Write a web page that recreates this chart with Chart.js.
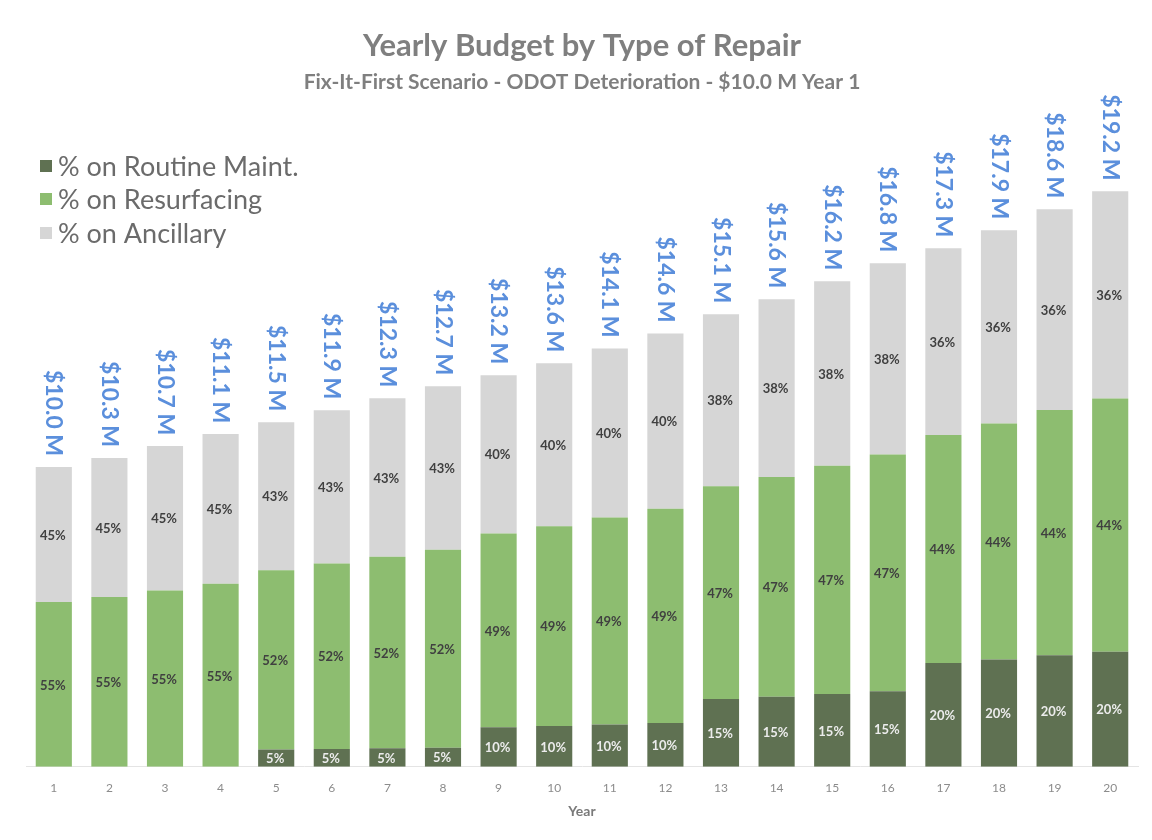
<!DOCTYPE html>
<html>
<head>
<meta charset="utf-8">
<script src="https://cdn.jsdelivr.net/npm/chart.js@4.4.1/dist/chart.umd.min.js"></script>
<style>
  html, body { margin: 0; padding: 0; background: #ffffff; }
  #wrap { width: 1152px; height: 840px; position: relative; }
</style>
</head>
<body>
<div id="wrap"><canvas id="budget-chart" width="1152" height="840"></canvas></div>
<script>
const years = ["1", "2", "3", "4", "5", "6", "7", "8", "9", "10",
  "11", "12", "13", "14", "15", "16", "17", "18", "19", "20"];

// total yearly budget, $M
const budgetTotals = [10.0, 10.3, 10.7, 11.1, 11.5, 11.9, 12.3, 12.7, 13.2, 13.6,
  14.1, 14.6, 15.1, 15.6, 16.2, 16.8, 17.3, 17.9, 18.6, 19.2];

// share of each year's budget, %
const routinePct = [0, 0, 0, 0, 5, 5, 5, 5, 10, 10, 10, 10, 15, 15, 15, 15, 20, 20, 20, 20];
const resurfacingPct = [55, 55, 55, 55, 52, 52, 52, 52, 49, 49, 49, 49, 47, 47, 47, 47, 44, 44, 44, 44];
const ancillaryPct = [45, 45, 45, 45, 43, 43, 43, 43, 40, 40, 40, 40, 38, 38, 38, 38, 36, 36, 36, 36];

const FONT = "Lato, 'Open Sans', sans-serif";

function dollars(pcts) {
  return pcts.map((p, i) => budgetTotals[i] * p / 100);
}

// percent text in the middle of each segment, total above each bar
const barLabels = {
  id: "barLabels",
  afterDatasetsDraw(chart) {
    const ctx = chart.ctx;
    ctx.save();
    chart.data.datasets.forEach((ds, di) => {
      const meta = chart.getDatasetMeta(di);
      meta.data.forEach((bar, i) => {
        const pct = ds.pct[i];
        if (!pct) return;
        ctx.font = "bold 13px " + FONT;
        ctx.fillStyle = di === 0 ? "#ececec" : "#404040";
        ctx.textAlign = "center";
        ctx.textBaseline = "middle";
        ctx.fillText(pct + "%", bar.x - 1, (bar.y + bar.base) / 2 + 1);
      });
    });

    const topMeta = chart.getDatasetMeta(chart.data.datasets.length - 1);
    topMeta.data.forEach((bar, i) => {
      ctx.save();
      ctx.translate(bar.x, bar.y - 11);
      ctx.rotate(Math.PI / 2);
      ctx.font = "bold 23px " + FONT;
      ctx.fillStyle = "#5b8fdc";
      ctx.textAlign = "right";
      ctx.textBaseline = "middle";
      ctx.fillText("$" + budgetTotals[i].toFixed(1) + " M", 0, 0);
      ctx.restore();
    });
    ctx.restore();
  }
};

// legend block sitting inside the plot, top-left
const cornerLegend = {
  id: "cornerLegend",
  afterDraw(chart) {
    const ctx = chart.ctx;
    const rows = [166, 199, 233];
    ctx.save();
    ctx.font = "27px " + FONT;
    ctx.textBaseline = "middle";
    ctx.textAlign = "left";
    chart.data.datasets.forEach((ds, i) => {
      ctx.fillStyle = ds.backgroundColor;
      ctx.fillRect(40, rows[i] - 6, 12, 12);
      ctx.fillStyle = "#6b6b6b";
      ctx.fillText(ds.label, 58, rows[i] + 1);
    });
    ctx.restore();
  }
};

new Chart(document.getElementById("budget-chart"), {
  type: "bar",
  data: {
    labels: years,
    datasets: [
      {
        label: "% on Routine Maint.",
        data: dollars(routinePct),
        pct: routinePct,
        backgroundColor: "#5f7152"
      },
      {
        label: "% on Resurfacing",
        data: dollars(resurfacingPct),
        pct: resurfacingPct,
        backgroundColor: "#8dbd70"
      },
      {
        label: "% on Ancillary",
        data: dollars(ancillaryPct),
        pct: ancillaryPct,
        backgroundColor: "#d6d6d6"
      }
    ]
  },
  options: {
    responsive: false,
    animation: false,
    layout: { padding: { top: 10, left: 26, right: 14, bottom: 16 } },
    datasets: {
      bar: { barPercentage: 0.65, categoryPercentage: 1.0 }
    },
    scales: {
      x: {
        stacked: true,
        grid: { display: false },
        border: { display: true, color: "#e4e4e4" },
        ticks: { color: "#8c8c8c", font: { family: FONT, size: 12 }, padding: 6 },
        title: {
          display: true,
          text: "Year",
          color: "#7a7a7a",
          font: { family: FONT, size: 14, weight: "bold" },
          padding: { top: 2, bottom: 4 }
        }
      },
      y: {
        stacked: true,
        display: false,
        min: 0,
        max: 20.5
      }
    },
    plugins: {
      title: {
        display: true,
        text: "Yearly Budget by Type of Repair",
        color: "#7f7f7f",
        font: { family: FONT, size: 31, weight: "bold" },
        padding: { top: 17, bottom: 2 }
      },
      subtitle: {
        display: true,
        text: "Fix-It-First Scenario - ODOT Deterioration - $10.0 M Year 1",
        color: "#7f7f7f",
        font: { family: FONT, size: 21, weight: "bold" },
        padding: { top: 3, bottom: 58 }
      },
      legend: { display: false },
      tooltip: { enabled: false }
    }
  },
  plugins: [barLabels, cornerLegend]
});
</script>
</body>
</html>
